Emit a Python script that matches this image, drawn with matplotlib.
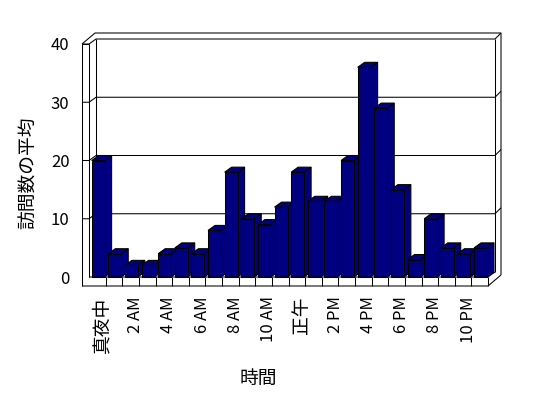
import matplotlib
matplotlib.use('Agg')
import matplotlib.pyplot as plt
from matplotlib.patches import Polygon, Rectangle

plt.rcParams['font.family'] = ['Noto Sans CJK JP', 'DejaVu Sans']

# average visits per hour of day
hours = list(range(24))
visits = [20, 4, 2, 2, 4, 5, 4, 8, 18, 10, 9, 12, 18, 13, 13, 20, 36, 29, 15, 3, 10, 5, 4, 5]
tick_hours = [0, 2, 4, 6, 8, 10, 12, 14, 16, 18, 20, 22]
tick_labels = ['真夜中', '2 AM', '4 AM', '6 AM', '8 AM', '10 AM', '正午', '2 PM', '4 PM', '6 PM', '8 PM', '10 PM']
y_ticks = [0, 10, 20, 30, 40]

DPI = 100
BAR_COLOR = '#000080'
LW = 0.75

fig = plt.figure(figsize=(5.48, 3.98), dpi=DPI)
ax = fig.add_axes([89 / 548, 121 / 398, 399 / 548, 233 / 398])
x0, x1 = -0.5, 23.5
ax.set_xlim(x0, x1)
ax.set_ylim(0, 40)
for s in ax.spines.values():
    s.set_visible(False)

# pixel sizes of the fake 3D depth, converted to data units
px, py = ax.transData.transform((1, 1)) - ax.transData.transform((0, 0))
ddx, ddy = 7 / px, 5 / py      # depth of the plot box
wdx, wdy = 6 / px, 6 / py      # thickness of back wall
lwx = 7 / px                   # thickness of left wall
fdy = 9 / py                   # thickness of floor


def line(xs, ys, z=1):
    ax.plot(xs, ys, color='black', lw=LW, clip_on=False, zorder=z,
            solid_capstyle='butt')


# back wall gridlines + their continuation on the walls
for v in y_ticks[1:]:
    line([x0 - lwx, x0, x0 + ddx, x1 + ddx, x1 + ddx + wdx],
         [v, v, v + ddy, v + ddy, v + ddy + wdy])
line([x0 - lwx, x0 - lwx], [-fdy, 40])
line([x0, x0], [0, 40])
line([x0 + ddx, x0 + ddx], [ddy, 40 + ddy])
line([x0 - lwx, x0], [40, 40])
line([x0 - lwx, x0 - lwx + ddx + wdx, x1 + ddx + wdx, x1 + ddx + wdx],
     [40, 40 + ddy + wdy, 40 + ddy + wdy, -fdy + ddy + wdy])
line([x1 + ddx, x1 + ddx], [ddy, 40 + ddy])

# bars drawn left to right so that each front hides the previous side
w = 0.78
for i, v in zip(hours, visits):
    z = 2 + i * 0.01
    l, r = i - w / 2 + 0.05, i + w / 2 + 0.05
    side = Polygon([(r, 0), (r + ddx, ddy), (r + ddx, v + ddy), (r, v)],
                   closed=True, fc=BAR_COLOR, ec='black', lw=LW, zorder=z, clip_on=False)
    top = Polygon([(l, v), (l + ddx, v + ddy), (r + ddx, v + ddy), (r, v)],
                  closed=True, fc=BAR_COLOR, ec='black', lw=LW, zorder=z, clip_on=False)
    front = Rectangle((l, 0), r - l, v, fc=BAR_COLOR, ec='black', lw=LW,
                      zorder=z + 0.005, clip_on=False)
    ax.add_patch(side)
    ax.add_patch(top)
    ax.add_patch(front)

# floor
line([x0, x1, x1 + ddx], [0, 0, ddy], z=3)
line([x0 - lwx, x1, x1 + ddx + wdx], [-fdy, -fdy, -fdy + ddy + wdy], z=3)
line([x1, x1], [0, -fdy], z=3)
for b in hours[:-1]:
    line([b + 0.5, b + 0.5], [0, -fdy], z=3)

# labels sit a few pixels right of the bar centres in the original
label_shift = 5 / px
ax.set_xticks([h + label_shift for h in tick_hours])
ax.set_xticklabels(tick_labels, rotation=90, fontsize=12)
for t in ax.get_xticklabels():
    if not t.get_text()[0].isdigit():
        t.set_fontsize(13.5)
ax.set_yticks(y_ticks)
ax.set_yticklabels([str(t) for t in y_ticks], fontsize=12)
ax.tick_params(axis='x', length=0, pad=14)
ax.tick_params(axis='y', length=0, pad=14)

ax.set_xlabel('時間', fontsize=13.5)
ax.xaxis.set_label_coords(0.424, -0.39)
ax.set_ylabel('訪問数の平均', fontsize=13.5)
ax.yaxis.set_label_coords(-0.125, 0.446)

fig.savefig('out.png', dpi=DPI)
